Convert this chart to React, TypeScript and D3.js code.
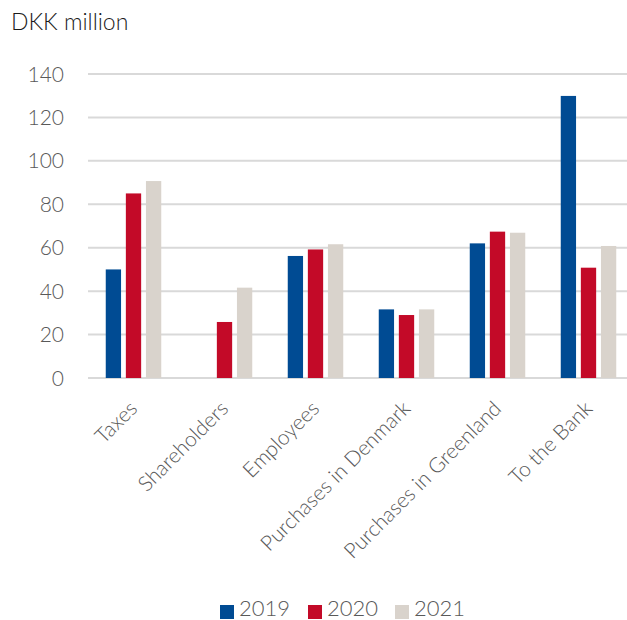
import React from "react";
import * as d3 from "d3";

const categories = ["Taxes", "Shareholders", "Employees", "Purchases in Denmark", "Purchases in Greenland", "To the Bank"];
const years = ["2019", "2020", "2021"];
const values2019 = [50, 0, 56.2, 31.6, 62, 129.9];
const values2020 = [85, 25.8, 59.2, 29, 67.4, 50.8];
const values2021 = [90.7, 41.6, 61.6, 31.6, 66.9, 60.8];
const yTicks = [0, 20, 40, 60, 80, 100, 120, 140];
const colors = ["#004B93", "#C30A28", "#D9D3CC"];

const W = 627, H = 620;
const left = 88, right = 634, top = 74, bottom = 378;
const FONT = "Lato, 'Open Sans', sans-serif";

export default function App() {
  const series = [values2019, values2020, values2021];
  const x = d3.scaleBand<string>().domain(categories).range([left, right]).paddingInner(0).paddingOuter(0);
  const y = d3.scaleLinear().domain([0, 140]).range([bottom, top]);
  const barW = 15.3;
  const step = 20.1;
  const legendX = [220, 308, 395];
  return (
    <svg width={W} height={H} style={{ position: "absolute", left: 0, top: 0, background: "#fff" }}>
      <text x={11} y={30} fontFamily={FONT} fontWeight={300} fontSize={23} fill="#1a1a1a">DKK million</text>
      {yTicks.map((t) => (
        <g key={t}>
          <line x1={left} x2={W} y1={y(t)} y2={y(t)} stroke="#D9D9D9" strokeWidth={2} />
          <text x={64} y={y(t)} dy="0.36em" textAnchor="end" fontFamily={FONT} fontWeight={300} fontSize={21} fill="#595959">{t}</text>
        </g>
      ))}
      {categories.map((c, i) => {
        const cx = (x(c) as number) + x.bandwidth() / 2;
        return (
          <g key={c}>
            {series.map((s, k) => {
              const v = s[i];
              if (!v) return null;
              const bx = cx + (k - 1) * step - barW / 2;
              return <rect key={k} x={bx} y={y(v)} width={barW} height={y(0) - y(v)} fill={colors[k]} />;
            })}
            <text transform={`translate(${cx + 5},${bottom + 32}) rotate(-45)`} textAnchor="end" fontFamily={FONT} fontWeight={300} fontSize={21} fill="#595959">{c}</text>
          </g>
        );
      })}
      {years.map((yr, k) => (
        <g key={yr}>
          <rect x={legendX[k]} y={605} width={14} height={14} fill={colors[k]} />
          <text x={legendX[k] + 19} y={616} fontFamily={FONT} fontWeight={300} fontSize={22} fill="#595959">{yr}</text>
        </g>
      ))}
    </svg>
  );
}
